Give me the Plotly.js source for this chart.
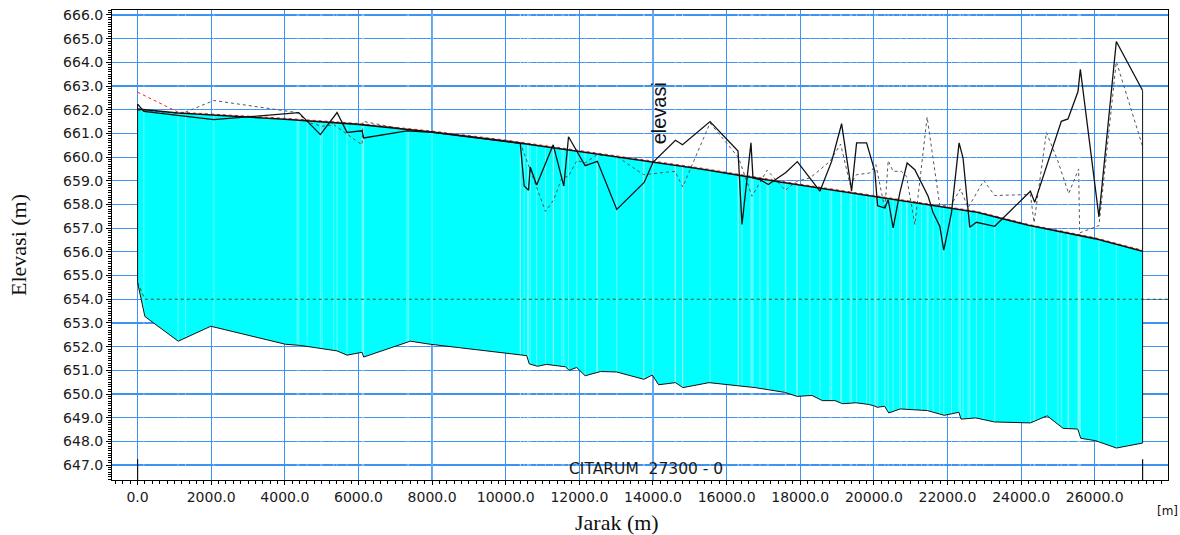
<!DOCTYPE html>
<html>
<head>
<meta charset="utf-8">
<script src="https://cdn.plot.ly/plotly-3.0.1.min.js"></script>
<style>html,body{margin:0;padding:0;background:#fff;}#chart{width:1180px;height:535px;}</style>
</head>
<body>
<div id="chart"></div>
<script>
// ---- Data (Jarak in m, Elevasi in m) ----
const bedX = [0, 199, 1104, 1990, 4016, 4423, 5418, 5690, 6097, 6142, 7408, 7951, 10570, 10640, 10867, 11107, 11620, 11723, 11928, 12157, 12579, 13012, 13754, 13982, 14153, 14610, 14815, 15522, 16321, 16777, 17576, 17918, 18318, 18603, 18946, 19151, 19516, 19858, 20029, 20086, 20292, 20406, 20714, 21456, 21912, 22311, 22368, 22768, 23281, 23966, 24251, 24707, 25141, 25540, 25620, 26020, 26590, 27300];
const bedY = [654.70, 653.27, 652.23, 652.86, 652.10, 652.05, 651.82, 651.64, 651.76, 651.56, 652.23, 652.10, 651.62, 651.27, 651.17, 651.25, 651.15, 651.00, 651.12, 650.77, 650.95, 650.93, 650.62, 650.80, 650.39, 650.48, 650.27, 650.48, 650.34, 650.27, 650.07, 649.90, 649.94, 649.72, 649.72, 649.59, 649.63, 649.56, 649.49, 649.44, 649.48, 649.20, 649.37, 649.30, 649.10, 649.23, 648.94, 648.99, 648.82, 648.78, 648.78, 649.08, 648.55, 648.52, 648.13, 648.03, 647.72, 647.93];

const wsX = [0, 1100, 4000, 6000, 8000, 10000, 12000, 14000, 15300, 17450, 20300, 22800, 24200, 26000, 27300];
const wsY = [662.03, 661.86, 661.60, 661.38, 661.06, 660.68, 660.24, 659.78, 659.50, 658.95, 658.26, 657.67, 657.12, 656.56, 656.03];

const egX = [0, 1100, 4000, 6000, 8000, 10000, 12000, 14000, 15300, 17450, 20300, 22800, 24200, 26000, 27300];
const egY = [662.74, 661.90, 661.64, 661.42, 661.10, 660.72, 660.28, 659.82, 659.54, 658.99, 658.30, 657.71, 657.16, 656.60, 656.07];

const lobX = [0, 171, 2071, 4378, 4966, 5418, 5690, 6097, 6142, 7318, 8000, 10394, 10502, 10619, 10665, 10840, 11290, 11578, 11706, 12157, 12490, 13016, 13760, 14000, 14610, 14803, 15550, 16310, 16418, 16662, 16716, 16906, 17133, 17610, 17920, 18535, 18853, 19124, 19395, 19531, 19802, 20027, 20101, 20299, 20389, 20524, 20705, 20904, 21113, 21294, 21474, 21610, 21791, 21899, 22108, 22315, 22423, 22605, 22786, 23283, 24253, 24369, 25092, 25273, 25545, 25609, 26114, 26586, 27300];
const lobY = [662.24, 661.93, 661.58, 661.88, 660.95, 661.88, 661.04, 661.11, 660.81, 661.11, 661.05, 660.58, 658.78, 658.60, 659.58, 658.82, 660.52, 658.78, 660.86, 659.64, 659.82, 657.79, 658.93, 659.78, 660.71, 660.52, 661.50, 660.26, 657.16, 660.60, 659.12, 659.05, 658.84, 659.35, 659.81, 658.56, 659.82, 661.41, 658.56, 660.60, 660.60, 659.40, 657.95, 657.85, 658.20, 657.01, 658.49, 659.75, 659.47, 658.91, 658.35, 657.65, 657.08, 656.07, 657.65, 660.60, 659.96, 657.04, 657.25, 657.08, 658.56, 658.09, 661.51, 661.61, 662.77, 663.71, 657.48, 664.88, 662.81];

const robX = [0, 1100, 1303, 2071, 4335, 4606, 5012, 5328, 6097, 6124, 7362, 8000, 10400, 10592, 11080, 11298, 11526, 11706, 11932, 12157, 12474, 13016, 13740, 14600, 14808, 15550, 16324, 16688, 17100, 17595, 17903, 18266, 18808, 19097, 19355, 19531, 19891, 20054, 20299, 20389, 20524, 20751, 20887, 21113, 21447, 21791, 22108, 22352, 22560, 22985, 23283, 24253, 24351, 24687, 25001, 25292, 25563, 25590, 26114, 26586, 27300];
const robY = [661.98, 661.85, 661.90, 662.39, 661.88, 661.48, 661.30, 661.37, 660.52, 661.51, 661.13, 661.05, 660.58, 659.75, 657.71, 658.18, 659.12, 659.19, 659.86, 659.75, 660.10, 660.03, 659.26, 659.40, 658.74, 661.44, 659.98, 658.35, 659.45, 658.60, 658.98, 659.12, 659.82, 660.55, 658.84, 659.26, 659.33, 659.68, 657.80, 659.85, 659.40, 659.40, 659.19, 657.15, 661.69, 657.95, 658.00, 658.66, 657.86, 659.01, 658.38, 658.42, 657.23, 661.04, 659.82, 658.46, 659.50, 656.80, 657.11, 664.03, 660.45];

const critX = [0, 200, 28000];
const critY = [654.70, 654.00, 654.00];

const markerY = [647.25, 646.30];

const riverLabel = 'CITARUM  27300 - 0';
const profileLabel = 'elevasi';
const xTitle = 'Jarak (m)';
const yTitle = 'Elevasi (m)';
const unitLabel = '[m]';

// ---- Build traces ----
const stationSet = Array.from(new Set(lobX.concat(robX))).filter(v => v > bedX[0] && v < bedX[bedX.length - 1]).sort((a, b) => a - b);
const stX = [], stY = [];
stationSet.forEach(s => { stX.push(s, s, null); stY.push(646, 667, null); });

const last = bedX.length - 1;
const groundX = [bedX[0]].concat(bedX, [bedX[last]]);
const groundY = [lobY[0]].concat(bedY, [lobY[lobY.length - 1]]);

const base = {mode: 'lines', showlegend: false, hoverinfo: 'skip'};
const traces = [
  Object.assign({}, base, {x: bedX, y: bedY, line: {width: 0, color: 'rgba(0,0,0,0)'}}),
  Object.assign({}, base, {x: wsX, y: wsY, fill: 'tonexty', fillcolor: '#00FFFF', line: {width: 0, color: 'rgba(0,0,0,0)'}}),
  Object.assign({}, base, {x: stX, y: stY, line: {width: 1, color: 'rgba(255,255,255,0.4)'}}),
  Object.assign({}, base, {x: critX, y: critY, line: {width: 1, color: '#1c5e1c', dash: 'dot'}}),
  Object.assign({}, base, {x: egX, y: egY, line: {width: 1, color: '#ff2020', dash: 'dot'}}),
  Object.assign({}, base, {x: robX, y: robY, line: {width: 1, color: '#555555', dash: 'dot'}}),
  Object.assign({}, base, {x: lobX, y: lobY, line: {width: 1.3, color: '#111111'}}),
  Object.assign({}, base, {x: wsX, y: wsY, line: {width: 1.6, color: '#111111'}}),
  Object.assign({}, base, {x: groundX, y: groundY, line: {width: 1, color: '#111111'}}),
  Object.assign({}, base, {x: [bedX[0], bedX[0], null, bedX[last], bedX[last]], y: [markerY[0], markerY[1], null, markerY[0], markerY[1]], line: {width: 1.2, color: '#111111'}})
];

const tickFont = {family: 'DejaVu Sans, Liberation Sans, Arial, sans-serif', size: 14, color: '#1a1a1a'};
const gridColor = '#3f93f0';

const layout = {
  width: 1180, height: 535,
  margin: {l: 112, r: 12, t: 10, b: 55},
  paper_bgcolor: '#ffffff', plot_bgcolor: '#ffffff',
  showlegend: false,
  xaxis: {
    range: [-695, 27990], tick0: 0, dtick: 2000, tickformat: '.1f',
    showgrid: true, gridcolor: gridColor, gridwidth: 1.2, zeroline: false,
    showline: true, linecolor: '#000', linewidth: 1, mirror: true,
    ticks: 'outside', ticklen: 4, tickcolor: '#000', tickfont: tickFont,
    minor: {dtick: 200, ticks: 'outside', ticklen: 3, tickcolor: '#000', showgrid: false},
    fixedrange: true
  },
  yaxis: {
    range: [646.37, 666.21], tick0: 0, dtick: 1, tickformat: '.1f',
    showgrid: true, gridcolor: gridColor, gridwidth: 1.2, zeroline: false,
    showline: true, linecolor: '#000', linewidth: 1, mirror: true,
    ticks: 'outside', ticklen: 5, tickcolor: '#000', tickfont: tickFont,
    minor: {dtick: 0.1, ticks: 'outside', ticklen: 3, tickcolor: '#000', showgrid: false},
    fixedrange: true
  },
  annotations: [
    {text: xTitle, xref: 'paper', yref: 'paper', x: 0.478, y: 0, yshift: -42, xanchor: 'center', yanchor: 'middle', showarrow: false, font: {family: 'Liberation Serif, Times New Roman, serif', size: 22, color: '#111'}},
    {text: yTitle, xref: 'paper', yref: 'paper', x: -0.089, y: 0.5, textangle: -90, xanchor: 'center', yanchor: 'middle', showarrow: false, font: {family: 'Liberation Serif, Times New Roman, serif', size: 22, color: '#111'}},
    {text: unitLabel, xref: 'paper', yref: 'paper', x: 0.9995, y: 0, yshift: -31, xanchor: 'center', yanchor: 'middle', showarrow: false, font: {family: 'DejaVu Sans, Liberation Sans, Arial, sans-serif', size: 12, color: '#111'}},
    {text: riverLabel, xref: 'paper', yref: 'paper', x: 0.5057, y: 0.0234, xanchor: 'center', yanchor: 'middle', showarrow: false, font: {family: 'DejaVu Sans, Liberation Sans, Arial, sans-serif', size: 15.5, color: '#1a1a1a'}},
    {text: profileLabel, xref: 'x', yref: 'y', x: 14165, y: 661.85, textangle: -90, xanchor: 'center', yanchor: 'middle', showarrow: false, font: {family: 'Liberation Sans, Arial, sans-serif', size: 20, color: '#111'}}
  ]
};

Plotly.newPlot('chart', traces, layout, {displayModeBar: false, staticPlot: true});
</script>
</body>
</html>
